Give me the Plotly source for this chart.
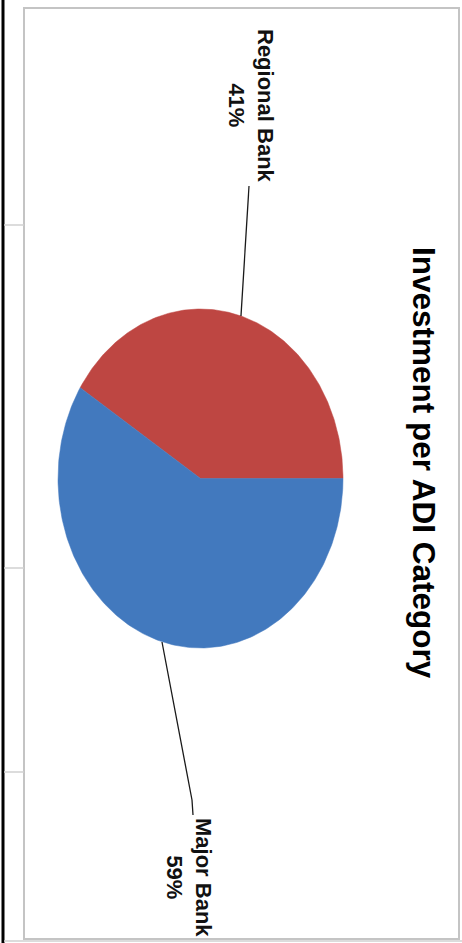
import numpy as np
import plotly.graph_objects as go

# ---- data ----
categories = ["Regional Bank", "Major Bank"]
values = [41, 59]
colors = ["#BE4642", "#4279BE"]
title_text = "Investment per ADI Category"

W, H = 462, 943
# ellipse geometry (pixel space of the rotated picture)
cx, cy, ra, rb = 200.5, 478.5, 142.5, 169.5

fig = go.Figure()

total = float(sum(values))
start = 0.0
for cat, val, col in zip(categories, values, colors):
    frac = val / total
    t = np.linspace(start, start + frac * 2 * np.pi, 200)
    xs = np.concatenate([[cx], cx + ra * np.cos(t), [cx]])
    ys = np.concatenate([[cy], cy - rb * np.sin(t), [cy]])
    fig.add_trace(go.Scatter(x=xs, y=ys, mode="lines", fill="toself",
                             fillcolor=col, line=dict(color=col, width=0.5),
                             hoverinfo="skip", name=cat))
    start += frac * 2 * np.pi

# leader lines
fig.add_trace(go.Scatter(x=[241, 249], y=[316, 186], mode="lines",
                         line=dict(color="#1a1a1a", width=1.3), hoverinfo="skip"))
fig.add_trace(go.Scatter(x=[162, 192, 193], y=[642, 800, 815], mode="lines",
                         line=dict(color="#1a1a1a", width=1.3), hoverinfo="skip"))

label_pos = [(251, 106), (189, 877)]
for cat, val, (lx, ly) in zip(categories, values, label_pos):
    pct = round(100 * val / total)
    fig.add_annotation(x=lx, y=ly, xref="x", yref="y", showarrow=False,
                       text=f"{cat}<br>{pct}%", textangle=90,
                       font=dict(family="Liberation Sans, Arial", size=22,
                                 color="#111", weight="bold"),
                       xanchor="center", yanchor="middle")

fig.add_annotation(x=424, y=463, xref="x", yref="y", showarrow=False,
                   text=title_text, textangle=90,
                   font=dict(family="Liberation Sans, Arial", size=31.5,
                             color="#000", weight="bold"),
                   xanchor="center", yanchor="middle")

# frame and spreadsheet lines
shapes = [
    dict(type="rect", x0=24, x1=459, y0=8, y1=939, xref="x", yref="y",
         line=dict(color="#c4c4c4", width=2), layer="below"),
    dict(type="line", x0=3, x1=3, y0=0, y1=943, xref="x", yref="y",
         line=dict(color="#000", width=3)),
    dict(type="line", x0=4, x1=462, y0=941, y1=941, xref="x", yref="y",
         line=dict(color="#d0d0d0", width=1.5)),
]
for yy in [225, 568, 772]:
    shapes.append(dict(type="line", x0=4, x1=24, y0=yy, y1=yy, xref="x", yref="y",
                       line=dict(color="#d0d0d0", width=1.5)))

fig.update_layout(
    width=W, height=H, margin=dict(l=0, r=0, t=0, b=0),
    paper_bgcolor="white", plot_bgcolor="white", showlegend=False,
    shapes=shapes,
    xaxis=dict(range=[0, W], visible=False, fixedrange=True),
    yaxis=dict(range=[H, 0], visible=False, fixedrange=True),
)

fig.write_html("out.html")
